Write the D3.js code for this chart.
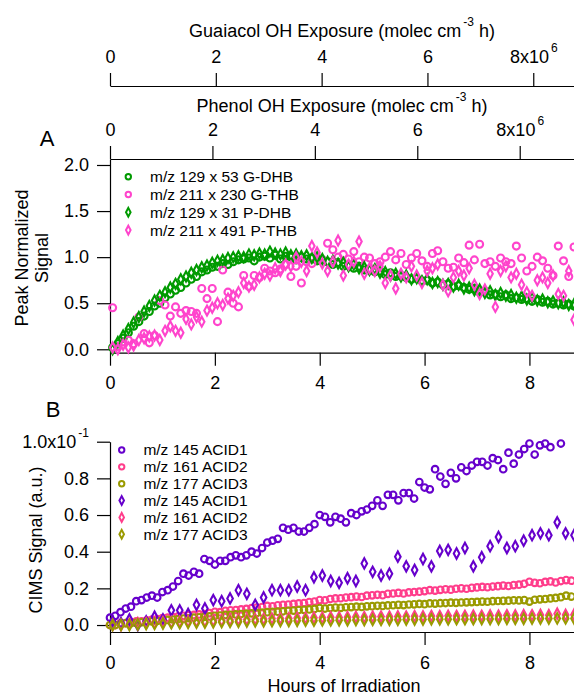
<!DOCTYPE html>
<html>
<head>
<meta charset="utf-8">
<script src="https://d3js.org/d3.v7.min.js"></script>
<style>
body { margin: 0; background: #fff; }
svg { display: block; font-family: "Liberation Sans", Arial, sans-serif; }
.axis path, .axis line { stroke: #000; stroke-width: 1.2; }
.axis text { font-size: 18px; fill: #000; }
</style>
</head>
<body>
<script>
// panel A: peak normalized signal vs hours of irradiation
var hoursA = [0.05,0.15,0.25,0.35,0.45,0.55,0.65,0.75,0.85,0.95,
  1.05,1.15,1.25,1.35,1.45,1.55,1.65,1.75,1.85,1.95,
  2.05,2.15,2.25,2.35,2.45,2.55,2.65,2.75,2.85,2.95,
  3.05,3.15,3.25,3.35,3.45,3.55,3.65,3.75,3.85,3.95,
  4.05,4.15,4.25,4.35,4.45,4.55,4.65,4.75,4.85,4.95,
  5.05,5.15,5.25,5.35,5.45,5.55,5.65,5.75,5.85,5.95,
  6.05,6.15,6.25,6.35,6.45,6.55,6.65,6.75,6.85,6.95,
  7.05,7.15,7.25,7.35,7.45,7.55,7.65,7.75,7.85,7.95,
  8.05,8.15,8.25,8.35,8.45,8.55,8.65,8.75,8.85];
var gDHB = [0.02,0.06,0.12,0.18,0.25,0.30,0.36,0.41,0.47,0.50,
  0.56,0.60,0.64,0.67,0.72,0.76,0.79,0.84,0.86,0.89,
  0.90,0.93,0.92,0.95,0.97,0.98,0.99,0.96,1.00,1.01,
  0.99,1.02,0.98,1.01,1.00,0.97,1.00,0.98,0.99,0.96,
  0.97,0.95,0.92,0.94,0.90,0.91,0.88,0.90,0.86,0.87,
  0.84,0.85,0.81,0.83,0.79,0.80,0.78,0.76,0.77,0.74,
  0.75,0.72,0.73,0.70,0.71,0.68,0.69,0.67,0.65,0.66,
  0.62,0.63,0.59,0.60,0.57,0.59,0.55,0.56,0.54,0.55,
  0.52,0.54,0.51,0.52,0.49,0.50,0.48,0.49,0.47];
var gTHB = [0.45,0.03,0.08,0.10,0.06,0.35,0.17,0.07,0.15,0.53,
  0.48,0.36,0.46,0.39,0.42,0.41,0.39,0.66,0.55,0.66,
  0.30,0.86,0.62,0.50,0.46,0.80,0.68,0.80,0.78,0.88,
  0.85,0.83,0.87,0.92,0.79,0.90,0.72,0.95,0.93,1.00,
  0.97,1.15,1.08,1.00,1.03,0.98,1.06,0.95,1.00,0.99,
  0.93,0.95,1.00,1.06,0.97,1.04,0.92,0.99,1.04,0.96,
  0.90,1.04,1.07,0.95,0.88,0.89,0.99,0.94,1.13,0.97,
  1.14,0.93,0.95,0.90,0.99,0.95,0.93,1.12,0.99,0.85,
  0.90,1.00,0.96,0.88,0.80,1.12,0.96,0.79,1.11];
var pDHB = [0.00,0.08,0.15,0.22,0.29,0.35,0.41,0.47,0.53,0.58,
  0.62,0.67,0.71,0.76,0.79,0.83,0.86,0.89,0.91,0.94,
  0.96,0.97,0.99,1.00,1.01,1.00,1.03,1.02,1.04,1.03,
  1.06,1.04,1.03,1.05,1.02,1.03,1.01,1.02,0.99,1.00,
  0.98,0.95,0.96,0.93,0.94,0.90,0.92,0.88,0.89,0.86,
  0.87,0.83,0.84,0.80,0.82,0.79,0.80,0.76,0.77,0.74,
  0.76,0.72,0.73,0.70,0.71,0.68,0.70,0.66,0.67,0.64,
  0.65,0.61,0.63,0.59,0.61,0.58,0.59,0.56,0.57,0.54,
  0.56,0.53,0.54,0.51,0.52,0.50,0.51,0.48,0.49];
var pTHB = [0.02,0.00,0.05,0.02,0.04,0.10,0.12,0.14,0.15,0.10,
  0.20,0.25,0.20,0.18,0.33,0.27,0.35,0.30,0.42,0.45,
  0.50,0.48,0.55,0.58,0.62,0.72,0.68,0.70,0.78,0.82,
  0.80,0.88,0.85,0.92,0.90,1.00,0.95,0.85,1.12,1.05,
  0.93,0.85,0.95,1.18,0.80,0.92,0.95,1.17,0.82,0.88,
  0.85,0.90,0.72,0.80,0.66,0.82,0.78,0.90,0.80,0.72,
  0.85,0.88,0.92,0.70,0.63,0.78,0.85,0.80,0.88,0.70,
  0.60,0.65,0.82,0.46,0.85,0.90,0.78,0.82,0.70,0.62,
  0.58,0.75,0.78,0.72,0.80,0.60,0.58,0.85,0.32];
var labelsA = ["m/z 129 x 53 G-DHB", "m/z 211 x 230 G-THB", "m/z 129 x 31 P-DHB", "m/z 211 x 491 P-THB"];

// panel B: CIMS signal (a.u.)
var hoursB = [0.0,0.1,0.2,0.3,0.4,0.5,0.6,0.7,0.8,0.9,
  1.0,1.1,1.2,1.3,1.4,1.5,1.6,1.7,1.8,1.9,
  2.0,2.1,2.2,2.3,2.4,2.5,2.6,2.7,2.8,2.9,
  3.0,3.1,3.2,3.3,3.4,3.5,3.6,3.7,3.8,3.9,
  4.0,4.1,4.2,4.3,4.4,4.5,4.6,4.7,4.8,4.9,
  5.0,5.1,5.2,5.3,5.4,5.5,5.6,5.7,5.8,5.9,
  6.0,6.1,6.2,6.3,6.4,6.5,6.6,6.7,6.8,6.9,
  7.0,7.1,7.2,7.3,7.4,7.5,7.6,7.7,7.8,7.9,
  8.0,8.1,8.2,8.3,8.4,8.5,8.6,8.7,8.8];
var acid1 = [0.004,0.005,0.007,0.009,0.010,0.013,0.0136,0.015,0.016,0.015,
  0.018,0.019,0.021,0.024,0.028,0.027,0.029,0.028,0.036,0.035,
  0.033,0.035,0.035,0.037,0.038,0.037,0.038,0.040,0.039,0.042,
  0.045,0.046,0.047,0.053,0.052,0.053,0.051,0.051,0.053,0.055,
  0.060,0.059,0.056,0.059,0.058,0.056,0.061,0.060,0.062,0.063,
  0.065,0.068,0.065,0.071,0.071,0.068,0.072,0.072,0.069,0.078,
  0.075,0.074,0.085,0.081,0.077,0.083,0.080,0.086,0.084,0.087,
  0.089,0.089,0.087,0.091,0.090,0.085,0.094,0.088,0.093,0.096,
  0.099,0.093,0.098,0.099,0.097,null,0.099,null,null];
var acid2 = [0.000,0.000,0.001,0.001,0.0015,0.002,0.002,0.0025,0.003,0.0032,
  0.0038,0.004,0.0043,0.0047,0.005,0.0053,0.0055,0.0058,0.006,0.0065,
  0.0072,0.007,0.0078,0.008,0.0082,0.0085,0.0088,0.0092,0.0095,0.0098,
  0.0104,0.0102,0.0108,0.011,0.0112,0.0115,0.0118,0.012,0.0125,0.0128,
  0.0136,0.0135,0.0142,0.0145,0.0146,0.015,0.0152,0.0155,0.0153,0.016,
  0.0162,0.0165,0.0163,0.017,0.0172,0.0175,0.0172,0.0178,0.018,0.0182,
  0.0185,0.019,0.0188,0.0192,0.0195,0.0193,0.0198,0.020,0.0198,0.0203,
  0.0205,0.0208,0.0206,0.021,0.0212,0.0215,0.0213,0.0218,0.022,0.0225,
  0.0236,0.023,0.0228,0.0235,0.0238,0.0232,0.024,0.0245,0.0242];
var acid3 = [0.000,0.000,0.0005,0.001,0.001,0.0012,0.0015,0.0018,0.002,0.0022,
  0.0025,0.0028,0.003,0.0032,0.0035,0.0037,0.004,0.0042,0.0045,0.0047,
  0.005,0.0052,0.0055,0.0056,0.0058,0.006,0.0062,0.0064,0.0066,0.0068,
  0.007,0.0072,0.0073,0.0075,0.0078,0.0079,0.0082,0.0083,0.0085,0.0088,
  0.0093,0.009,0.0093,0.0095,0.0094,0.0097,0.0098,0.010,0.0099,0.0102,
  0.0103,0.0105,0.0104,0.0107,0.0108,0.011,0.0109,0.0112,0.0113,0.0115,
  0.0114,0.0118,0.0117,0.0119,0.012,0.0122,0.0121,0.0123,0.0124,0.0125,
  0.0126,0.0128,0.0127,0.013,0.0131,0.0132,0.0133,0.0135,0.0134,0.0136,
  0.0128,0.0138,0.014,0.0142,0.0145,0.0148,0.0152,0.016,0.0155];
var hoursBd = [0.05,0.21,0.37,0.53,0.69,0.85,1.01,1.17,1.33,1.49,
  1.65,1.81,1.97,2.13,2.29,2.45,2.61,2.77,2.93,3.09,
  3.25,3.41,3.57,3.73,3.89,4.05,4.21,4.37,4.53,4.69,
  4.85,5.01,5.17,5.33,5.49,5.65,5.81,5.97,6.13,6.29,
  6.45,6.61,6.77,6.93,7.09,7.25,7.41,7.57,7.73,7.89,
  8.05,8.21,8.37,8.53,8.69,8.85];
var acid1d = [0.002,0.001,0.003,0.000,0.002,0.0045,0.003,0.008,0.008,0.006,
  0.011,0.009,0.0136,0.013,0.0145,0.019,0.017,0.011,0.015,0.019,
  0.019,0.019,0.021,0.019,0.026,0.027,0.024,0.023,0.0255,0.024,
  0.0336,0.029,0.027,0.028,0.0373,0.032,0.030,0.036,0.032,0.0404,
  0.041,0.039,0.042,0.032,0.037,0.043,0.048,0.042,0.043,0.046,
  0.049,0.050,0.049,0.056,0.050,0.049];
var acid2d = [0.000,0.000,0.0005,0.001,0.001,0.0012,0.0015,0.0015,0.0018,0.002,
  0.002,0.0022,0.0025,0.0025,0.0028,0.003,0.003,0.0032,0.0033,0.0035,
  0.0035,0.0036,0.0038,0.0038,0.004,0.004,0.0042,0.0041,0.0043,0.0044,
  0.0043,0.0045,0.0046,0.0045,0.0047,0.0046,0.0048,0.0047,0.0049,0.0048,
  0.005,0.0049,0.005,0.0051,0.005,0.0052,0.0051,0.0053,0.0052,0.0054,
  0.0053,0.0055,0.0054,0.0062,0.0055,0.0056];
var acid3d = [0.000,0.000,0.000,0.0003,0.0005,0.0006,0.0008,0.001,0.001,0.0012,
  0.0013,0.0014,0.0015,0.0016,0.0017,0.0018,0.0019,0.002,0.002,0.0021,
  0.0022,0.0022,0.0023,0.0024,0.0024,0.0025,0.0025,0.0026,0.0026,0.0027,
  0.0027,0.0028,0.0028,0.0029,0.0029,0.003,0.003,0.003,0.0031,0.0031,
  0.0031,0.0032,0.0032,0.0032,0.0033,0.0033,0.0033,0.0034,0.0034,0.0034,
  0.0035,0.0035,0.0035,0.0036,0.0036,0.0036];
var labelsB = ["m/z 145 ACID1", "m/z 161 ACID2", "m/z 177 ACID3", "m/z 145 ACID1", "m/z 161 ACID2", "m/z 177 ACID3"];

// tick values
var hourTicks = [0, 2, 4, 6, 8];
var exposureTicks = [0, 2e6, 4e6, 6e6, 8e6];
var ticksA = [0, 0.5, 1, 1.5, 2];
var ticksB = [0, 0.02, 0.04, 0.06, 0.08, 0.1];

var green = "#009a00", magenta = "#ff44cc";
var purple = "#6600cc", pink = "#ff3d8b", olive = "#9a9a00";

var width = 574, height = 696;
var svg = d3.select("body").append("svg")
  .attr("width", width)
  .attr("height", height);

var x = d3.scaleLinear().domain([0, 8.85]).range([110, width]);
var xGuai = d3.scaleLinear().domain([0, 8.77e6]).range([110, width]);
var xPhen = d3.scaleLinear().domain([0, 9.06e6]).range([110, width]);
var yA = d3.scaleLinear().domain([-0.037, 2.065]).range([352.7, 159]);
var yB = d3.scaleLinear().domain([-0.0038, 0.1]).range([632, 441.7]);

function diamond(w, h) {
  return "M0," + (-h) + "L" + w + ",0L0," + h + "L" + (-w) + ",0Z";
}

// write "main" + raised "sup" (+ optional tail) into a text node
function withSup(sel, main, sup, tail) {
  sel.text(null);
  sel.append("tspan").text(main);
  sel.append("tspan").attr("dx", 2).attr("dy", -11).style("font-size", "12px").text(sup);
  if (tail) sel.append("tspan").attr("dy", 11).text(tail);
}

function axis(g) {
  g.attr("class", "axis").attr("font-family", null).attr("font-size", null);
}

// exposure axes
svg.append("g").attr("transform", "translate(0,86)")
  .call(d3.axisTop(xGuai).tickValues(exposureTicks).tickSize(13).tickSizeOuter(0).tickPadding(10)
    .tickFormat(d => d / 1e6))
  .call(axis)
  .selectAll("text").filter(d => d == 8e6).call(withSup, "8x10", "6");

svg.append("g").attr("transform", "translate(0,159)")
  .call(d3.axisTop(xPhen).tickValues(exposureTicks).tickSize(13).tickSizeOuter(0).tickPadding(10)
    .tickFormat(d => d / 1e6))
  .call(axis)
  .selectAll("text").filter(d => d == 8e6).call(withSup, "8x10", "6");

svg.append("text").attr("x", 342).attr("y", 36.5).attr("text-anchor", "middle")
  .style("font-size", "18px").call(withSup, "Guaiacol OH Exposure (molec cm", "-3", " h)");
svg.append("text").attr("x", 342).attr("y", 111.5).attr("text-anchor", "middle")
  .style("font-size", "18px").call(withSup, "Phenol OH Exposure (molec cm", "-3", " h)");

// panel A axes
svg.append("g").attr("transform", "translate(110,0)")
  .call(d3.axisLeft(yA).tickValues(ticksA).tickSize(13).tickSizeOuter(0).tickPadding(8)
    .tickFormat(d3.format(".1f")))
  .call(axis);
svg.append("g").attr("transform", "translate(0,352.7)")
  .call(d3.axisBottom(x).tickValues(hourTicks).tickSize(13).tickSizeOuter(0).tickPadding(11)
    .tickFormat(d3.format("d")))
  .call(axis);

// panel B axes
svg.append("g").attr("transform", "translate(110,0)")
  .call(d3.axisLeft(yB).tickValues(ticksB).tickSize(13).tickSizeOuter(0).tickPadding(8)
    .tickFormat(d => (d * 10).toFixed(1)))
  .call(axis)
  .selectAll("text").filter(d => d == 0.1).call(withSup, "1.0x10", "-1");
svg.append("g").attr("transform", "translate(0,632)")
  .call(d3.axisBottom(x).tickValues(hourTicks).tickSize(13).tickSizeOuter(0).tickPadding(11)
    .tickFormat(d3.format("d")))
  .call(axis);

// labels
svg.append("text").attr("x", 47).attr("y", 146.3).attr("text-anchor", "middle")
  .style("font-size", "22px").text("A");
svg.append("text").attr("x", 53).attr("y", 417.2).attr("text-anchor", "middle")
  .style("font-size", "22px").text("B");
svg.append("text").attr("transform", "translate(28,258) rotate(-90)").attr("text-anchor", "middle")
  .style("font-size", "18px").text("Peak Normalized");
svg.append("text").attr("transform", "translate(48,258) rotate(-90)").attr("text-anchor", "middle")
  .style("font-size", "18px").text("Signal");
svg.append("text").attr("transform", "translate(42,540) rotate(-90)").attr("text-anchor", "middle")
  .style("font-size", "18px").text("CIMS Signal (a.u.)");
svg.append("text").attr("x", 344).attr("y", 691.5).attr("text-anchor", "middle")
  .style("font-size", "18px").text("Hours of Irradiation");

// series
var seriesA = [
  {label: labelsA[0], t: hoursA, v: gDHB, color: green, shape: "circle"},
  {label: labelsA[1], t: hoursA, v: gTHB, color: magenta, shape: "circle"},
  {label: labelsA[2], t: hoursA, v: pDHB, color: green, shape: "diamond"},
  {label: labelsA[3], t: hoursA, v: pTHB, color: magenta, shape: "diamond"}
];
var seriesB = [
  {label: labelsB[0], t: hoursB, v: acid1, color: purple, shape: "circle"},
  {label: labelsB[1], t: hoursB, v: acid2, color: pink, shape: "circle"},
  {label: labelsB[2], t: hoursB, v: acid3, color: olive, shape: "circle"},
  {label: labelsB[3], t: hoursBd, v: acid1d, color: purple, shape: "diamond"},
  {label: labelsB[4], t: hoursBd, v: acid2d, color: pink, shape: "diamond"},
  {label: labelsB[5], t: hoursBd, v: acid3d, color: olive, shape: "diamond"}
];

function drawSeries(s, y, size) {
  var pts = s.t.map((t, i) => ({t: t, v: s.v[i]})).filter(d => d.v != null);
  var g = svg.append("g").attr("fill", "none").attr("stroke", s.color).attr("stroke-width", 2.1);
  if (s.shape == "circle") {
    g.selectAll("circle").data(pts).join("circle")
      .attr("cx", d => x(d.t)).attr("cy", d => y(d.v)).attr("r", size.r);
  } else {
    g.selectAll("path").data(pts).join("path")
      .attr("d", diamond(size.w, size.h))
      .attr("transform", d => "translate(" + x(d.t) + "," + y(d.v) + ")");
  }
}

function drawLegend(list, lx, ly, step) {
  list.forEach(function(s, i) {
    var cy = ly + i * step;
    var g = svg.append("g").attr("fill", "none").attr("stroke", s.color).attr("stroke-width", 2);
    if (s.shape == "circle") g.append("circle").attr("cx", lx).attr("cy", cy).attr("r", 2.7);
    else g.append("path").attr("d", diamond(2.3, 4.4)).attr("transform", "translate(" + lx + "," + cy + ")");
    svg.append("text").attr("x", lx + 21.7).attr("y", cy).attr("dy", "0.35em")
      .style("font-size", "15.5px").text(s.label);
  });
}

seriesA.forEach(s => drawSeries(s, yA, {r: 3.5, w: 2.7, h: 5.0}));
seriesB.forEach(s => drawSeries(s, yB, {r: 3.3, w: 2.8, h: 5.2}));
drawLegend(seriesA, 128.3, 176.7, 17.8);
drawLegend(seriesB, 121.7, 450, 16.85);
</script>
</body>
</html>
